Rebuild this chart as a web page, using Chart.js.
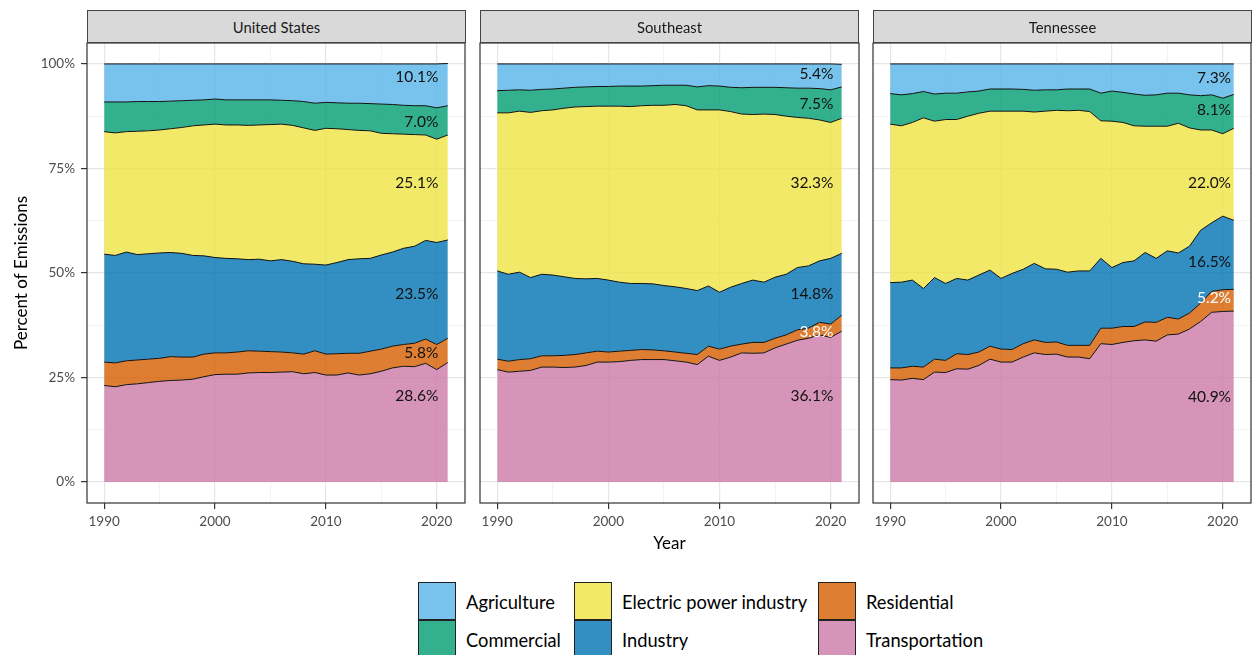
<!DOCTYPE html>
<html>
<head>
<meta charset="utf-8">
<script src="https://cdn.jsdelivr.net/npm/chart.js@4.4.1/dist/chart.umd.min.js"></script>
<style>
html,body{margin:0;padding:0;background:#fff;}
body{width:1252px;height:655px;overflow:hidden;position:relative;font-family:Lato,"Open Sans",sans-serif;}
canvas{position:absolute;top:0;}
.strip{position:absolute;top:10px;height:33px;box-sizing:border-box;border:1px solid #444;background:#d9d9d9;color:#1a1a1a;font-size:14.8px;display:flex;align-items:center;justify-content:center;}
.key{position:absolute;width:38px;height:38px;box-sizing:border-box;border:1px solid #222;}
.ltxt{position:absolute;font-size:18.3px;color:#000;line-height:22px;white-space:nowrap;}
</style>
</head>
<body>
<canvas id="c0" width="470" height="560" style="left:0px"></canvas>
<canvas id="c1" width="395" height="560" style="left:470px"></canvas>
<canvas id="c2" width="387" height="560" style="left:865px"></canvas>
<div id="legend"></div>
<script>
// ---------- data ----------
const years = [1990,1991,1992,1993,1994,1995,1996,1997,1998,1999,2000,2001,2002,2003,2004,2005,2006,2007,2008,2009,2010,2011,2012,2013,2014,2015,2016,2017,2018,2019,2020,2021];
const regions = ['United States','Southeast','Tennessee'];
const sectors = ['Transportation','Residential','Industry','Electric power industry','Commercial','Agriculture'];
const legendOrder = ['Agriculture','Commercial','Electric power industry','Industry','Residential','Transportation'];
const yTicks = [0,12.5,25,37.5,50,62.5,75,87.5,100];
const xTicks = [1990,1995,2000,2005,2010,2015,2020];

// United States (% share of emissions)
const usTransportation = [23.1,22.8,23.3,23.5,23.8,24.1,24.3,24.4,24.6,25.2,25.7,25.8,25.8,26.1,26.2,26.2,26.3,26.4,25.9,26.2,25.6,25.6,26.1,25.6,25.9,26.5,27.3,27.7,27.6,28.4,26.9,28.6];
const usResidential    = [5.6,5.7,5.7,5.7,5.6,5.5,5.7,5.5,5.3,5.4,5.2,5.1,5.3,5.3,5.1,5.0,4.8,4.5,4.7,5.2,5.0,5.1,4.7,5.2,5.4,5.3,5.2,5.2,5.6,5.8,6.0,5.8];
const usIndustry       = [25.8,25.7,26.0,25.2,25.2,25.2,24.9,24.8,24.3,23.5,22.8,22.6,22.3,21.8,22.0,21.7,22.1,21.9,21.6,20.7,21.3,21.8,22.4,22.6,22.2,22.5,22.5,23.0,23.2,23.6,24.4,23.5];
const usElectric       = [29.3,29.3,28.8,29.5,29.4,29.4,29.6,30.1,31.0,31.3,31.9,31.9,32.0,32.1,32.1,32.6,32.4,32.5,32.5,32.0,32.7,32.0,31.1,30.7,30.5,29.1,28.3,27.3,26.7,25.2,24.7,25.1];
const usCommercial     = [7.1,7.4,7.1,7.1,7.0,6.8,6.6,6.4,6.1,6.0,6.0,6.0,6.0,6.1,6.0,5.9,5.7,5.9,6.3,6.5,6.2,6.2,6.3,6.5,6.5,7.0,7.0,6.9,6.9,7.0,7.5,7.0];
const usAgriculture    = [9.1,9.1,9.1,9.0,9.0,9.0,8.9,8.8,8.7,8.6,8.4,8.6,8.6,8.6,8.6,8.6,8.7,8.8,9.0,9.4,9.2,9.3,9.4,9.4,9.5,9.6,9.7,9.9,10.0,10.0,10.5,10.1];

// Southeast
const seTransportation = [26.9,26.3,26.5,26.7,27.5,27.5,27.4,27.5,27.9,28.7,28.7,28.8,29.1,29.3,29.3,29.3,29.0,28.7,28.1,30.1,29.1,29.9,30.9,30.8,30.9,32.1,33.0,33.9,34.4,35.2,34.6,36.1];
const seResidential    = [2.5,2.6,2.8,2.8,2.7,2.7,2.9,3.0,3.0,2.6,2.4,2.5,2.4,2.4,2.3,2.1,2.1,2.1,2.4,2.4,2.7,2.6,2.1,2.6,2.5,2.3,2.2,2.5,2.4,3.0,3.2,3.8];
const seIndustry       = [21.1,20.8,20.9,19.4,19.5,19.3,18.8,18.2,17.7,17.4,17.2,16.5,16.0,15.8,15.8,15.6,15.6,15.5,15.3,14.4,13.6,14.1,14.5,14.9,14.4,14.6,14.5,14.9,14.9,14.7,15.7,14.8];
const seElectric       = [37.8,38.6,38.5,39.5,39.1,39.5,40.3,41.0,41.2,41.2,41.6,42.1,42.3,42.5,42.7,43.1,43.6,43.7,43.2,42.1,43.6,42.0,40.5,39.6,40.2,38.9,37.8,35.9,35.3,33.7,32.5,32.3];
const seCommercial     = [5.3,5.4,5.1,5.3,5.1,5.0,4.8,4.7,4.7,4.7,4.7,4.8,4.9,4.7,4.7,4.8,4.6,4.9,5.5,5.8,5.7,5.8,6.3,6.5,6.4,6.5,6.8,7.0,7.2,7.5,7.8,7.5];
const seAgriculture    = [6.4,6.3,6.2,6.3,6.1,6.0,5.8,5.6,5.5,5.4,5.4,5.3,5.3,5.3,5.2,5.1,5.1,5.1,5.5,5.2,5.3,5.6,5.7,5.6,5.6,5.6,5.7,5.8,5.8,5.9,6.2,5.4];

// Tennessee
const tnTransportation = [24.5,24.4,24.8,24.5,26.3,26.2,27.1,27.0,27.9,29.4,28.7,28.7,29.9,30.9,30.5,30.6,29.9,29.9,29.5,33.1,32.9,33.4,33.8,34.0,33.7,35.2,35.4,36.6,38.4,40.6,40.8,40.9];
const tnResidential    = [2.8,2.9,2.9,3.0,3.1,2.9,3.6,3.5,3.2,3.1,3.1,3.0,3.2,3.1,2.9,2.9,2.8,2.8,3.2,3.7,3.9,3.8,3.4,4.3,4.5,4.2,3.6,3.8,4.4,5.0,5.2,5.2];
const tnIndustry       = [20.4,20.5,20.6,18.8,19.5,18.4,18.0,17.8,18.4,18.2,16.9,18.2,17.8,18.3,17.6,17.4,17.5,17.8,17.8,16.7,14.5,15.3,15.7,16.6,15.3,15.9,15.8,16.0,17.4,16.4,17.6,16.5];
const tnElectric       = [37.9,37.4,37.7,40.8,37.4,39.2,38.0,39.2,38.7,38.0,40.0,38.8,37.8,36.2,37.7,38.0,38.6,38.4,38.1,32.9,35.0,33.5,32.3,30.2,31.6,29.8,31.0,28.3,24.0,22.2,19.7,22.0];
const tnCommercial     = [7.3,7.4,6.9,6.3,6.5,6.3,6.3,5.8,5.3,5.3,5.3,5.3,5.2,5.2,5.1,4.9,5.2,5.1,5.4,6.6,7.2,7.2,7.6,7.4,7.5,7.9,7.2,7.9,8.2,8.4,8.5,8.1];
const tnAgriculture    = [7.1,7.4,7.1,6.6,7.2,7.0,7.0,6.7,6.5,6.0,6.0,6.0,6.1,6.3,6.2,6.2,6.0,6.0,6.0,7.0,6.5,6.8,7.2,7.5,7.4,7.0,7.0,7.4,7.6,7.4,8.2,7.3];

// ---------- styling (kept separate from data) ----------
const sectorColors = {
  'Transportation':'rgba(204,121,167,0.8)',
  'Residential':'rgba(213,94,0,0.8)',
  'Industry':'rgba(0,114,178,0.8)',
  'Electric power industry':'rgba(240,228,66,0.8)',
  'Commercial':'rgba(0,158,115,0.8)',
  'Agriculture':'rgba(86,180,233,0.8)'
};
const FONT = 'Lato, "Open Sans", sans-serif';

const panelSeries = [
  [usTransportation,usResidential,usIndustry,usElectric,usCommercial,usAgriculture],
  [seTransportation,seResidential,seIndustry,seElectric,seCommercial,seAgriculture],
  [tnTransportation,tnResidential,tnIndustry,tnElectric,tnCommercial,tnAgriculture]
];
// label placement (data units) and colours per panel, order as sectors
const labelYPos = [[20.6,30.9,45.0,71.5,86.0,96.9],[20.6,35.9,45.0,71.5,90.4,97.5],[20.4,44.1,52.7,71.5,89.0,96.6]];
const labelXPos = [2020.15,2020.25,2020.75];
const labelColors = [
  ['#111','#111','#111','#111','#111','#111'],
  ['#111','#fff','#111','#111','#111','#111'],
  ['#111','#fff','#111','#111','#111','#111']
];
const layoutCfg = [
  {left:0,   width:470, padL:0,  padR:5, yW:87, showY:true,  xTitle:false, stripL:87,  stripW:379},
  {left:470, width:395, padL:10, padR:6, yW:0,  showY:false, xTitle:true,  stripL:480, stripW:379},
  {left:865, width:387, padL:8,  padR:1, yW:0,  showY:false, xTitle:false, stripL:873, stripW:379}
];

const decoPlugin = {
  id:'panelDeco',
  afterDatasetsDraw(chart, args, opts){
    const {ctx, chartArea:a, scales} = chart;
    ctx.save();
    ctx.font = '15.5px ' + FONT;
    ctx.textAlign = 'right';
    ctx.textBaseline = 'middle';
    opts.labels.forEach(l => {
      ctx.fillStyle = l.color;
      ctx.fillText(l.text, scales.x.getPixelForValue(opts.labelX), scales.y.getPixelForValue(l.y));
    });
    ctx.strokeStyle = '#333';
    ctx.lineWidth = 1.2;
    ctx.strokeRect(a.left, a.top, a.right - a.left, a.bottom - a.top);
    ctx.restore();
  }
};

function isMajorX(v){ return v % 10 === 0; }
function isMajorY(v){ return v % 25 === 0; }

regions.forEach((name, p) => {
  const L = layoutCfg[p];
  const strip = document.createElement('div');
  strip.className = 'strip';
  strip.style.left = L.stripL + 'px';
  strip.style.width = L.stripW + 'px';
  strip.textContent = name;
  document.body.appendChild(strip);

  const series = panelSeries[p];
  const datasets = sectors.map((s, i) => ({
    label: s,
    data: years.map((yr, k) => ({x: yr, y: series[i][k]})),
    backgroundColor: sectorColors[s],
    borderColor: '#111',
    borderWidth: 1,
    pointRadius: 0,
    tension: 0,
    fill: i === 0 ? 'origin' : '-1'
  }));
  const labels = sectors.map((s, i) => ({
    text: series[i][series[i].length - 1].toFixed(1) + '%',
    y: labelYPos[p][i],
    color: labelColors[p][i]
  }));

  new Chart(document.getElementById('c' + p), {
    type: 'line',
    data: {datasets},
    plugins: [decoPlugin],
    options: {
      responsive: false,
      animation: false,
      devicePixelRatio: 1,
      layout: {padding: {left: L.padL, right: L.padR, top: 43, bottom: 0}},
      plugins: {
        legend: {display: false},
        tooltip: {enabled: false},
        panelDeco: {labels, labelX: labelXPos[p]}
      },
      scales: {
        x: {
          type: 'linear', min: 1988.45, max: 2022.55,
          afterBuildTicks: s => { s.ticks = xTicks.map(v => ({value: v})); },
          afterFit: s => { s.height = 57; },
          border: {display: false},
          grid: {
            color: c => (c.tick && isMajorX(c.tick.value)) ? '#e6e6e6' : '#f3f3f3',
            lineWidth: c => (c.tick && isMajorX(c.tick.value)) ? 1.2 : 1,
            tickColor: c => (c.tick && isMajorX(c.tick.value)) ? '#333' : 'rgba(0,0,0,0)',
            tickLength: 6, tickWidth: 1.2
          },
          ticks: {
            autoSkip: false, maxRotation: 0, padding: 5, color: '#4d4d4d',
            font: {family: FONT, size: 13.5},
            callback: v => isMajorX(v) ? String(v) : ''
          },
          title: {display: L.xTitle, text: 'Year', color: '#000', font: {family: FONT, size: 17}, padding: {top: 0, bottom: 6}}
        },
        y: {
          type: 'linear', min: -5, max: 105, stacked: true,
          afterBuildTicks: s => { s.ticks = yTicks.map(v => ({value: v})); },
          afterFit: s => { s.width = L.yW; },
          border: {display: false},
          grid: {
            color: c => (c.tick && isMajorY(c.tick.value)) ? '#e6e6e6' : '#f3f3f3',
            lineWidth: c => (c.tick && isMajorY(c.tick.value)) ? 1.2 : 1,
            tickColor: c => (c.tick && isMajorY(c.tick.value)) ? '#333' : 'rgba(0,0,0,0)',
            drawTicks: L.showY, tickLength: 6, tickWidth: 1.2
          },
          ticks: {
            display: L.showY, autoSkip: false, padding: 6, color: '#4d4d4d',
            font: {family: FONT, size: 13.5},
            callback: v => isMajorY(v) ? v + '%' : ''
          },
          title: {display: L.showY, text: 'Percent of Emissions', color: '#000', font: {family: FONT, size: 17}, padding: {top: 11, bottom: 0}}
        }
      }
    }
  });
});

// ---------- legend ----------
const legCols = [418, 574, 818];
const legRows = [582, 620];
const legend = document.getElementById('legend');
legendOrder.forEach((s, i) => {
  const col = Math.floor(i / 2), row = i % 2;
  const k = document.createElement('div');
  k.className = 'key';
  k.style.left = legCols[col] + 'px';
  k.style.top = legRows[row] + 'px';
  k.style.background = sectorColors[s];
  legend.appendChild(k);
  const t = document.createElement('div');
  t.className = 'ltxt';
  t.style.left = (legCols[col] + 48) + 'px';
  t.style.top = (legRows[row] + 9) + 'px';
  t.textContent = s;
  legend.appendChild(t);
});
</script>
</body>
</html>
